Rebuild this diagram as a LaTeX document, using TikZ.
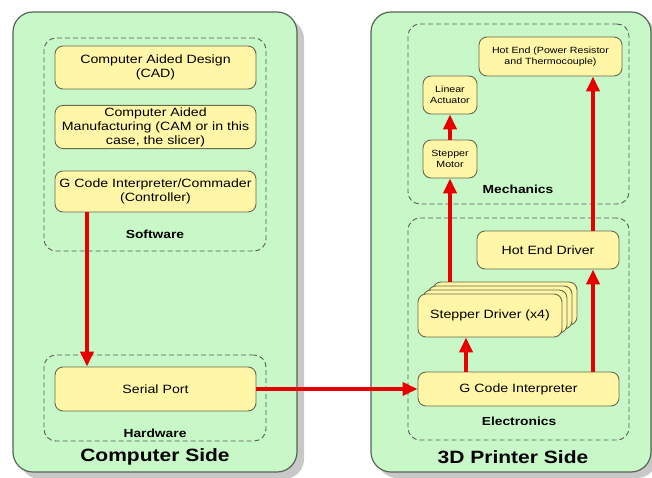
\documentclass[tikz,border=0pt]{standalone}
\usepackage{fontspec}
\setmainfont{Liberation Sans}[FakeStretch=1.18]
\usetikzlibrary{arrows.meta}
\definecolor{panelgreen}{RGB}{200,248,200}
\definecolor{panelline}{RGB}{85,100,85}
\definecolor{boxyellow}{RGB}{255,246,168}
\definecolor{boxline}{RGB}{105,105,75}
\definecolor{dashline}{RGB}{90,90,90}
\definecolor{arrred}{RGB}{230,0,0}
\definecolor{shadowgray}{RGB}{200,200,200}
\begin{document}
\begin{tikzpicture}[x=1pt,y=-1pt,
  panel/.style={draw=panelline,fill=panelgreen,line width=1.2pt,rounded corners=20pt,inner sep=0pt},
  pshadow/.style={fill=shadowgray,rounded corners=20pt,draw=none,inner sep=0pt},
  group/.style={draw=dashline,dash pattern=on 5pt off 3pt,line width=0.9pt,rounded corners=12pt,inner sep=0pt},
  ybox/.style={draw=boxline,fill=boxyellow,line width=0.9pt,rounded corners=8pt,align=center,inner sep=2pt,font=\fontsize{12}{14}\selectfont},
  sbox/.style={ybox,font=\fontsize{9}{11}\selectfont},
  glabel/.style={font=\fontsize{11.7}{13}\selectfont\bfseries,inner sep=0pt},
  plabel/.style={font=\fontsize{17.8}{20}\selectfont\bfseries,inner sep=0pt},
  arr/.style={draw=arrred,line width=4pt,-{Triangle[length=15pt,width=13pt]}}
]
\useasboundingbox (0,0) rectangle (652,478);
% panels
\node[pshadow,minimum width=284pt,minimum height=460pt] (lsh) at (162,249) {};
\node[pshadow,minimum width=280pt,minimum height=460pt] (rsh) at (517,248) {};
\node[panel,minimum width=284pt,minimum height=460pt] (lp) at (155,242) {};
\node[panel,minimum width=280pt,minimum height=460pt] (rp) at (511,242) {};
% groups
\node[group,minimum width=222pt,minimum height=213pt] (sw) at (155,144.5) {};
\node[group,minimum width=222pt,minimum height=86pt] (hw) at (155,398) {};
\node[group,minimum width=221pt,minimum height=180pt] (mech) at (518.5,114) {};
\node[group,minimum width=221pt,minimum height=222pt] (elec) at (518.5,329) {};
% group labels
\node[glabel] (swl) at (155,234) {Software};
\node[glabel] (hwl) at (155,433) {Hardware};
\node[glabel] (mechl) at (518,189) {Mechanics};
\node[glabel] (elecl) at (519,421) {Electronics};
\node[plabel] (lpl) at (155,457) {Computer Side};
\node[plabel] (rpl) at (513,457) {3D Printer Side};
% software boxes
\node[ybox,minimum width=201pt,minimum height=43pt] (cad) at (155.5,67.5) {Computer Aided Design\\(CAD)};
\node[ybox,minimum width=201pt,minimum height=42pt] (cam) at (155.5,127) {Computer Aided\\Manufacturing (CAM or in this\\case, the slicer)};
\node[ybox,minimum width=201pt,minimum height=41pt] (gcc) at (155.5,191.5) {G Code Interpreter/Commader\\(Controller)};
\node[ybox,minimum width=201pt,minimum height=44pt] (ser) at (155.5,389) {Serial Port};
% mechanics boxes
\node[sbox,minimum width=143pt,minimum height=39pt] (he) at (550.5,56.5) {Hot End (Power Resistor\\and Thermocouple)};
\node[sbox,minimum width=54pt,minimum height=38pt] (la) at (450,95) {Linear\\Actuator};
\node[sbox,minimum width=54pt,minimum height=38pt] (sm) at (450,159) {Stepper\\Motor};
% electronics boxes
\node[ybox,minimum width=142pt,minimum height=38pt] (hed) at (548,250) {Hot End Driver};
\node[ybox,minimum width=144pt,minimum height=43pt] (sd3) at (505,303.5) {};
\node[ybox,minimum width=144pt,minimum height=43pt] (sd2) at (500,307.5) {};
\node[ybox,minimum width=144pt,minimum height=43pt] (sd1) at (495,311.5) {};
\node[ybox,minimum width=144pt,minimum height=43pt] (sd) at (490,315.5) {Stepper Driver (x4)};
\node[ybox,minimum width=201pt,minimum height=34pt] (gci) at (518.5,389) {G Code Interpreter};
% connector x positions
\coordinate (xa) at (87,0);
\coordinate (xb) at (466,0);
\coordinate (xc) at (593,0);
% arrows
\draw[arr] (gcc.south -| xa) -- (ser.north -| xa);
\draw[arr,line width=3.5pt] (ser.east) -- (gci.west);
\draw[arr] (gci.north -| xb) -- (sd.south -| xb);
\draw[arr] (gci.north -| xc) -- (hed.south -| xc);
\draw[arr] (hed.north -| xc) -- (he.south -| xc);
\draw[arr] (sm.south |- sd3.north) -- (sm.south);
\draw[arr] (sm.north) -- (la.south);
\end{tikzpicture}
\end{document}
